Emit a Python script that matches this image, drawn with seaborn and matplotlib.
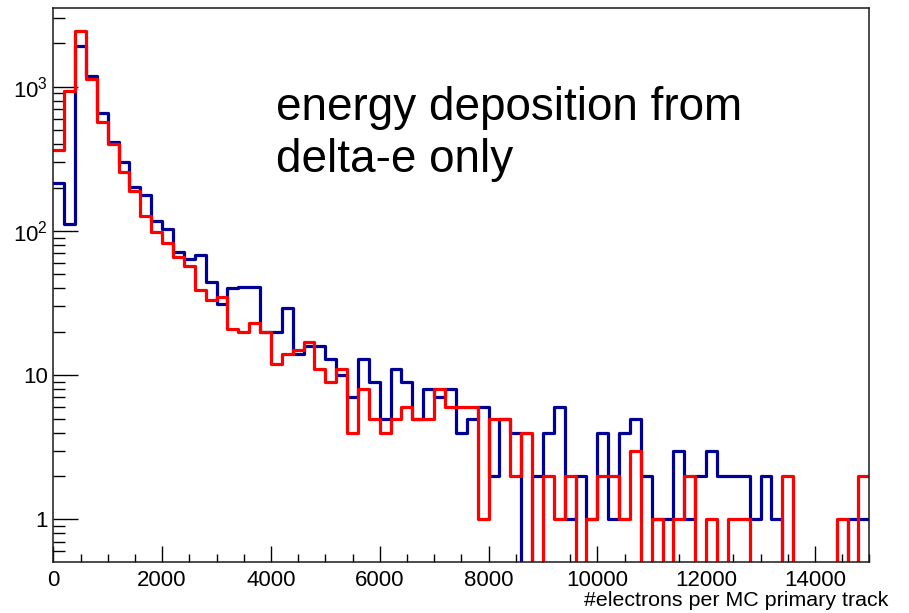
import numpy as np
import pandas as pd
import matplotlib
matplotlib.use("Agg")
import matplotlib.pyplot as plt
import seaborn as sns
from matplotlib.ticker import FixedLocator, FuncFormatter, LogLocator, MultipleLocator, NullFormatter

# Histogram binning: 75 bins of 200 electrons from 0 to 15000
bin_width = 200
x_max = 15000

# Counts per bin, all contributions (blue)
counts_all = [
    214, 112, 1905, 1180, 657, 417, 300, 203, 178, 117,
    104, 71, 64, 68, 44, 31, 40, 41, 41, 20,
    20, 29, 14, 16, 16, 13, 10, 7, 13, 9,
    5, 11, 9, 5, 8, 7, 8, 4, 5, 6,
    2, 5, 4, 0, 2, 4, 6, 1, 2, 1,
    4, 1, 4, 5, 2, 1, 1, 3, 1, 2,
    3, 2, 2, 2, 1, 2, 1, 0, 0, 0,
    0, 0, 0, 1, 1,
]

# Counts per bin, delta-electron deposition only (red)
counts_delta = [
    365, 942, 2448, 1131, 569, 402, 258, 188, 127, 99,
    83, 66, 57, 39, 33, 35, 21, 20, 23, 20,
    12, 14, 15, 17, 11, 9, 11, 4, 8, 5,
    4, 5, 6, 5, 5, 8, 6, 6, 6, 1,
    5, 5, 2, 4, 0, 2, 1, 2, 0, 1,
    2, 2, 1, 3, 0, 1, 0, 1, 2, 0,
    1, 0, 1, 1, 0, 0, 0, 2, 0, 0,
    0, 0, 1, 0, 2,
]

x_label = "#electrons per MC primary track"
annotation_lines = ["energy deposition from", "delta-e only"]
y_tick_values = [1, 10, 100, 1000]
y_tick_texts = ["1", "10", r"$\mathregular{10^{2}}$", r"$\mathregular{10^{3}}$"]

blue = "#000099"
red = "#ff0000"

centers = np.arange(len(counts_all)) * bin_width + bin_width / 2
df_all = pd.DataFrame({"electrons": centers, "count": counts_all})
df_delta = pd.DataFrame({"electrons": centers, "count": counts_delta})

sns.set_style("white")
plt.rcParams["font.family"] = ["Liberation Sans", "DejaVu Sans"]
plt.rcParams["mathtext.default"] = "regular"
plt.rcParams["text.color"] = "black"

fig = plt.figure(figsize=(9.09, 6.13), dpi=100)
ax = fig.add_axes([53.3 / 909, 1 - 561.5 / 613, (869.3 - 53.3) / 909, (561.5 - 8) / 613])

sns.histplot(data=df_all, x="electrons", weights="count", binwidth=bin_width,
             binrange=(0, x_max), element="step", fill=False,
             color=blue, linewidth=2.3, ax=ax)
sns.histplot(data=df_delta, x="electrons", weights="count", binwidth=bin_width,
             binrange=(0, x_max), element="step", fill=False,
             color=red, linewidth=2.3, ax=ax)

ax.set_yscale("log", nonpositive="clip")
ax.set_xlim(0, x_max)
ax.set_ylim(0.51, 3520)
ax.set_xlabel("")
ax.set_ylabel("")

for side in ["left", "right", "top", "bottom"]:
    ax.spines[side].set_visible(True)
    ax.spines[side].set_color("#1a1a1a")
    ax.spines[side].set_linewidth(1.1)

ax.xaxis.set_major_locator(MultipleLocator(2000))
ax.xaxis.set_minor_locator(MultipleLocator(500))
ax.xaxis.set_major_formatter(FuncFormatter(lambda v, p: f"{int(round(v))}"))

ax.yaxis.set_major_locator(FixedLocator(y_tick_values))
ax.yaxis.set_major_formatter(FuncFormatter(
    lambda v, p: y_tick_texts[y_tick_values.index(int(round(v)))] if int(round(v)) in y_tick_values else ""))
ax.yaxis.set_minor_locator(LogLocator(base=10, subs=np.arange(2, 10)))
ax.yaxis.set_minor_formatter(NullFormatter())

ax.tick_params(axis="x", which="major", direction="in", length=11.5, width=1.0,
               labelsize=16, pad=6, colors="black", bottom=True, top=False)
ax.tick_params(axis="x", which="minor", direction="in", length=5.8, width=1.0,
               colors="black", bottom=True, top=False)
ax.tick_params(axis="y", which="major", direction="in", length=18, width=1.0,
               labelsize=16, pad=4, colors="black", left=True, right=False)
ax.tick_params(axis="y", which="minor", direction="in", length=8.6, width=1.0,
               colors="black", left=True, right=False)

fig.text(888 / 909, 1 - 600 / 613, x_label, ha="right", va="center",
         fontsize=15.4, color="black")
fig.text(276 / 909, 1 - 120 / 613, annotation_lines[0], ha="left", va="baseline",
         fontsize=33, color="black")
fig.text(276 / 909, 1 - 172 / 613, annotation_lines[1], ha="left", va="baseline",
         fontsize=33, color="black")

fig.savefig("out.png", dpi=100, facecolor="white")
